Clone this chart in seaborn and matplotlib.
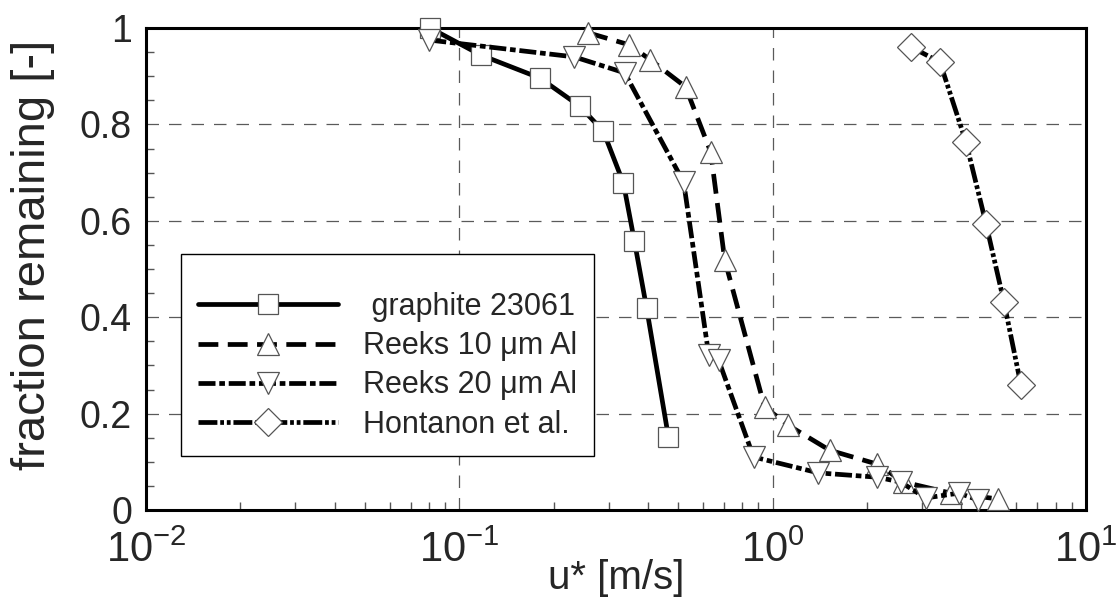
import matplotlib
matplotlib.use("Agg")
import matplotlib.pyplot as plt
import seaborn as sns
from matplotlib.ticker import LogLocator, MultipleLocator, FuncFormatter

# ---------------- data ----------------
series_names = [" graphite 23061", "Reeks 10 \u03bcm Al", "Reeks 20 \u03bcm Al", "Hontanon et al."]

graphite_u = [0.0807, 0.117, 0.181, 0.242, 0.288, 0.334, 0.362, 0.396, 0.465]
graphite_f = [1.0, 0.944, 0.896, 0.838, 0.786, 0.678, 0.558, 0.419, 0.151]

reeks10_u = [0.258, 0.349, 0.407, 0.527, 0.634, 0.703, 0.942, 1.12, 1.52, 2.16, 2.62, 3.70, 5.24]
reeks10_f = [0.990, 0.965, 0.934, 0.878, 0.743, 0.519, 0.214, 0.176, 0.124, 0.095, 0.058, 0.035, 0.023]

reeks20_u = [0.0802, 0.233, 0.337, 0.520, 0.625, 0.672, 0.869, 1.40, 2.16, 2.56, 3.08, 3.93, 4.52]
reeks20_f = [0.975, 0.940, 0.907, 0.680, 0.322, 0.311, 0.110, 0.077, 0.068, 0.058, 0.025, 0.035, 0.021]

hontanon_u = [2.76, 3.42, 4.14, 4.80, 5.47, 6.20]
hontanon_f = [0.961, 0.929, 0.763, 0.593, 0.432, 0.259]

x_label = "u* [m/s]"
y_label = "fraction remaining [-]"

# ---------------- style ----------------
sns.set_theme(style="white")
plt.rcParams["font.family"] = ["Liberation Sans", "DejaVu Sans"]
plt.rcParams["mathtext.fontset"] = "custom"
plt.rcParams["mathtext.rm"] = "Liberation Sans"
plt.rcParams["mathtext.it"] = "Liberation Sans:italic"
plt.rcParams["mathtext.bf"] = "Liberation Sans:bold"
plt.rcParams["axes.unicode_minus"] = False

fig = plt.figure(figsize=(11.19, 6.02), dpi=100)
fig.patch.set_facecolor("white")
ax = fig.add_axes([146 / 1119, 1 - 510 / 602, 940 / 1119, 482 / 602])
ax.set_facecolor("white")
ax.set_xscale("log")

series = [
    (graphite_u, graphite_f, "s", "-", 14.5),
    (reeks10_u, reeks10_f, "^", (0, (4.2, 2.0)), 16),
    (reeks20_u, reeks20_f, "v", (0, (3.6, 0.8, 1.2, 0.8)), 16),
    (hontanon_u, hontanon_f, "D", (0, (4.0, 0.6, 0.8, 0.6, 0.8, 0.6)), 14.3),
]

handles = []
for (u, f, mk, ls, ms) in series:
    sns.lineplot(x=u, y=f, ax=ax, color="black", linewidth=3.4, linestyle=ls,
                 marker=mk, markersize=ms, markerfacecolor="white",
                 markeredgecolor="#555555", markeredgewidth=0.9,
                 estimator=None, sort=False, errorbar=None, legend=False,
                 clip_on=False, zorder=3)
    handles.append(ax.lines[-1])

ax.set_xlim(0.01, 10)
ax.set_ylim(0, 1)

ax.xaxis.set_major_locator(LogLocator(base=10, numticks=10))
ax.xaxis.set_minor_locator(LogLocator(base=10, subs=range(2, 10), numticks=20))
ax.yaxis.set_major_locator(MultipleLocator(0.2))
ax.yaxis.set_minor_locator(MultipleLocator(0.05))


def yfmt(v, p):
    if abs(v) < 1e-9:
        return "0"
    if abs(v - 1) < 1e-9:
        return "1"
    return f"{v:.1f}"


ax.yaxis.set_major_formatter(FuncFormatter(yfmt))

ax.tick_params(which="major", direction="in", length=10, width=2, color="black",
               top=False, right=False)
ax.tick_params(which="minor", direction="in", length=6, width=1, color="#555555",
               top=False, right=False, bottom=True, left=True)
ax.tick_params(axis="x", which="major", labelsize=30, pad=15)
ax.tick_params(axis="y", which="major", labelsize=27, pad=10)

for sp in ax.spines.values():
    sp.set_linewidth(2.2)
    sp.set_color("black")

ax.set_axisbelow(True)
ax.grid(True, which="major", linestyle=(0, (10, 8)), color="#5a5a5a", linewidth=0.9)
ax.grid(False, which="minor")

ax.set_xlabel(x_label, fontsize=29, labelpad=-9)
ax.set_ylabel(y_label, fontsize=34)
ax.yaxis.set_label_coords(-0.097, 0.529)

leg = ax.legend(handles=handles, labels=series_names, loc="upper left",
                bbox_to_anchor=(0.0372, 0.531), borderaxespad=0, fontsize=22,
                handlelength=4.6, handletextpad=0.8, labelspacing=0.3,
                borderpad=0.55, frameon=True, fancybox=False, edgecolor="black",
                framealpha=1, title=" ", title_fontsize=9)
leg.get_frame().set_linewidth(1.0)
leg.set_zorder(5)

fig.savefig("out.png", dpi=100)
